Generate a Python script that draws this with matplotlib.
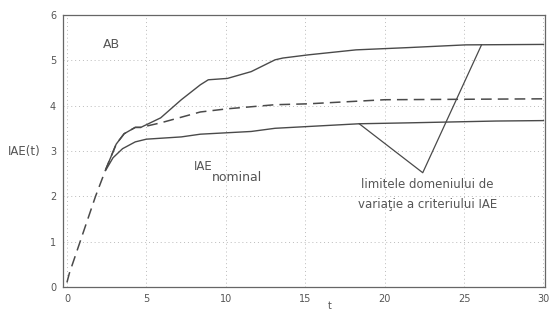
import matplotlib
matplotlib.use("Agg")
import matplotlib.pyplot as plt

# Time samples and IAE(t) responses
t_upper = [2.45, 3.1, 3.6, 4.3, 4.65, 5.9, 7.2, 8.4, 8.9, 10.1, 11.6, 13.1, 13.6, 15.2, 18.2, 21.5, 25.1, 30.0]
iae_upper = [2.6, 3.15, 3.38, 3.52, 3.52, 3.73, 4.13, 4.46, 4.57, 4.6, 4.75, 5.01, 5.05, 5.12, 5.23, 5.28, 5.34, 5.35]

t_nominal = [0.0, 0.15, 1.8, 2.45, 3.1, 3.6, 4.3, 4.65, 5.9, 8.4, 10.1, 13.1, 15.2, 20.0, 30.0]
iae_nominal = [0.1, 0.3, 2.0, 2.6, 3.15, 3.38, 3.52, 3.52, 3.62, 3.86, 3.93, 4.02, 4.04, 4.13, 4.15]

t_lower = [2.45, 2.9, 3.5, 4.3, 5.0, 7.2, 8.4, 11.6, 13.1, 18.4, 21.5, 27.0, 30.0]
iae_lower = [2.58, 2.85, 3.05, 3.2, 3.26, 3.31, 3.37, 3.43, 3.5, 3.6, 3.62, 3.66, 3.67]

# Pointer lines from the label to the two limit curves
pointer_t = [26.1, 22.4, 18.4]
pointer_iae = [5.34, 2.52, 3.6]

x_ticks = [0, 5, 10, 15, 20, 25, 30]
y_ticks = [0, 1, 2, 3, 4, 5, 6]

ink = "#4a4a4a"
txt = "#555555"

fig = plt.figure(figsize=(5.5, 3.25), dpi=100)
ax = fig.add_axes([0.1145, 0.117, 0.8765, 0.837])

ax.plot(t_upper, iae_upper, color=ink, lw=1.0)
ax.plot(t_lower, iae_lower, color=ink, lw=1.0)
ax.plot(t_nominal, iae_nominal, color=ink, lw=1.1, dashes=(7, 4))
ax.plot(pointer_t, pointer_iae, color=ink, lw=0.9)

ax.set_xlim(-0.25, 30.1)
ax.set_ylim(0, 6)
ax.set_xticks(x_ticks)
ax.set_yticks(y_ticks)
ax.tick_params(length=0, labelsize=7, colors=txt, pad=5)
ax.grid(True, ls=(0, (1, 3)), color="#bbbbbb", lw=0.7)
for s in ax.spines.values():
    s.set_color("#666666")
    s.set_linewidth(0.9)

ax.text(2.8, 5.34, "AB", fontsize=9, color=txt, ha="center", va="center")
ax.text(8.0, 2.66, "IAE", fontsize=8.5, color=txt, ha="left", va="center")
ax.text(9.1, 2.42, "nominal", fontsize=9, color=txt, ha="left", va="center")
ax.text(22.7, 2.25, "limitele domeniului de", fontsize=8.5, color=txt, ha="center", va="center")
ax.text(22.7, 1.82, "variaţie a criteriului IAE", fontsize=8.5, color=txt, ha="center", va="center")

fig.text(8 / 550, 1 - 152 / 325, "IAE(t)", fontsize=8.5, color=txt, ha="left", va="center")
fig.text(330 / 550, 1 - 306 / 325, "t", fontsize=7, color=txt, ha="center", va="center")

fig.savefig("out.png", dpi=100)
